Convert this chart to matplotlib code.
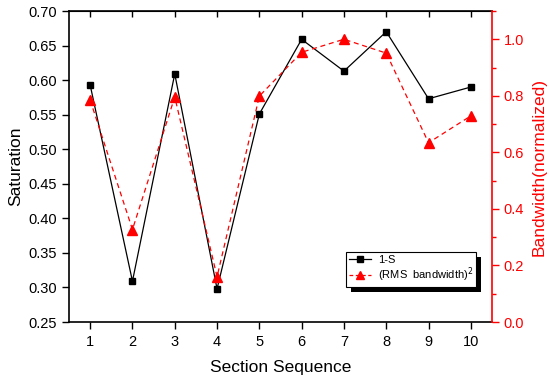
import matplotlib
matplotlib.use("Agg")
import matplotlib.pyplot as plt
from matplotlib.ticker import MultipleLocator, FormatStrFormatter
from matplotlib.lines import Line2D
from matplotlib.patches import Rectangle

plt.rcParams['font.family'] = ['Liberation Sans', 'DejaVu Sans']

sections = [1, 2, 3, 4, 5, 6, 7, 8, 9, 10]
saturation_1s = [0.593, 0.309, 0.609, 0.298, 0.551, 0.659, 0.613, 0.670, 0.573, 0.590]
bandwidth_norm = [0.785, 0.327, 0.796, 0.160, 0.799, 0.954, 1.000, 0.951, 0.634, 0.729]

fig = plt.figure(figsize=(5.5, 3.79), dpi=100)
ax = fig.add_axes([69/550, 1-322/379, (492-69)/550, (322-11)/379])
ax2 = ax.twinx()

ax.plot(sections, saturation_1s, color='black', lw=0.9, marker='s', ms=5,
        markerfacecolor='black', markeredgecolor='black', zorder=3)
ax2.plot(sections, bandwidth_norm, color='red', lw=0.9, ls=(0, (4, 3)), marker='^', ms=7,
         markerfacecolor='red', markeredgecolor='red')

ax.set_xlim(0.5, 10.5)
ax.set_ylim(0.25, 0.70)
ax.yaxis.set_major_locator(MultipleLocator(0.05))
ax.set_xticks(sections)
ax.yaxis.set_major_formatter(FormatStrFormatter('%.2f'))
ax2.set_ylim(0.0, 1.1)
ax2.yaxis.set_major_locator(MultipleLocator(0.2))
ax2.yaxis.set_minor_locator(MultipleLocator(0.1))
ax2.yaxis.set_major_formatter(FormatStrFormatter('%.1f'))

ax.tick_params(axis='both', direction='out', length=5, width=1, labelsize=10.5, top=False)
ax.tick_params(axis='x', pad=4)
ax2.tick_params(axis='y', which='major', direction='out', length=5, width=1, colors='red', labelsize=10.5)
ax2.tick_params(axis='y', which='minor', direction='out', length=3, width=1, colors='red')

secx = ax.secondary_xaxis('top')
secx.set_xticks(sections)
secx.tick_params(direction='in', length=4, width=1, labeltop=False)
secx.set_xticklabels([])

for sp in ['left', 'bottom', 'top']:
    ax.spines[sp].set_linewidth(1.2)
ax2.spines['right'].set_color('red')
ax2.spines['right'].set_linewidth(1.2)
ax.spines['right'].set_visible(False)
for sp in ['left', 'bottom', 'top']:
    ax2.spines[sp].set_visible(False)

ax.set_xlabel('Section Sequence', fontsize=12.5, labelpad=8)
ax.set_ylabel('Saturation', fontsize=12.5, labelpad=4)
ax2.set_ylabel('Bandwidth(normalized)', fontsize=12.5, color='red', labelpad=5)

handles = [
    Line2D([], [], color='black', lw=0.9, marker='s', ms=4.5),
    Line2D([], [], color='red', lw=0.9, ls=(0, (3, 2)), marker='^', ms=6),
]
labels = ['1-S', r'(RMS  bandwidth)$^2$']
leg = fig.legend(handles, labels, loc='upper left', bbox_to_anchor=(346/550, 1-252/379),
                 bbox_transform=fig.transFigure, borderaxespad=0,
                 fontsize=8, frameon=True, fancybox=False, shadow=False, framealpha=1,
                 edgecolor='black', handlelength=2.0, borderpad=0.25, labelspacing=0.1,
                 handletextpad=0.6)
leg.get_frame().set_linewidth(0.8)
leg.set_zorder(10)
fig.canvas.draw()
bb = leg.get_frame().get_window_extent().transformed(fig.transFigure.inverted())
shadow = Rectangle((bb.x0 + 5/550, bb.y0 - 5/379), bb.width, bb.height, transform=fig.transFigure,
                   facecolor='black', edgecolor='none', zorder=9)
fig.add_artist(shadow)

fig.savefig('out.png', dpi=100)
